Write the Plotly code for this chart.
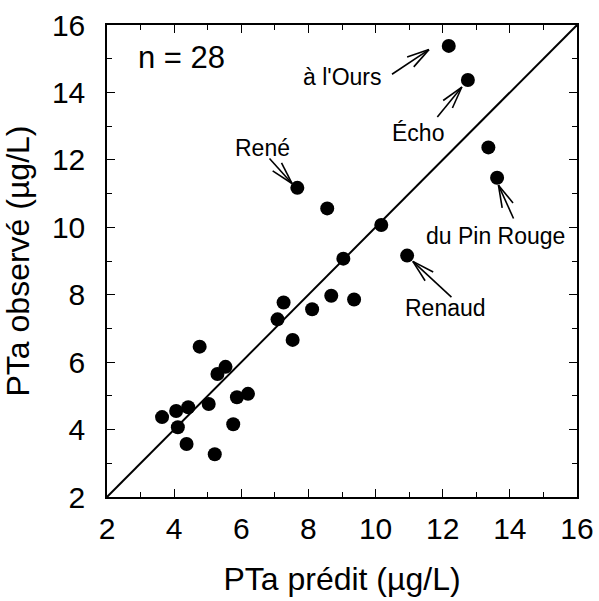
import math
import plotly.graph_objects as go

# Predicted vs observed total phosphorus (µg/L) for 28 lakes
predicted = [3.64, 4.06, 4.42, 4.11, 4.37, 4.76, 5.03, 5.21, 5.29, 5.53,
             5.76, 5.87, 6.20, 7.08, 7.26, 7.53, 8.11, 8.68, 9.36, 7.67,
             8.56, 10.17, 9.04, 10.94, 13.62, 12.18, 12.75, 13.36]
observed = [4.37, 4.55, 4.66, 4.07, 3.57, 6.46, 4.76, 3.27, 5.65, 5.86,
            4.16, 4.96, 5.06, 7.27, 7.77, 6.66, 7.57, 7.97, 7.86, 11.17,
            10.56, 10.07, 9.07, 9.16, 11.47, 15.38, 14.37, 12.37]

# Named lakes and their callouts (text anchor, arrow tail, arrow tip)
lake_names = ["à l'Ours", "Écho", "René", "du Pin Rouge", "Renaud"]
name_x = [10.26, 11.26, 6.63, 13.58, 12.07]
name_y = [14.45, 12.79, 12.34, 9.73, 7.60]
name_anchor = ["right", "center", "center", "center", "center"]
tail_x = [10.49, 11.84, 6.84, 14.11, 12.26]
tail_y = [14.54, 13.27, 12.04, 10.26, 7.93]
tip_x = [11.59, 12.57, 7.51, 13.66, 11.11]
tip_y = [15.27, 14.16, 11.30, 11.25, 8.99]

axis_min, axis_max = 2, 16
tick_vals = [2, 4, 6, 8, 10, 12, 14, 16]

W, H = 599, 601
margin = dict(l=107, r=22, t=25, b=104)
px_x = (W - margin["l"] - margin["r"]) / (axis_max - axis_min)
px_y = (H - margin["t"] - margin["b"]) / (axis_max - axis_min)

FONT = "Liberation Sans, Arial, sans-serif"

fig = go.Figure()

# 1:1 line
fig.add_trace(go.Scatter(
    x=[axis_min, axis_max], y=[axis_min, axis_max], mode="lines",
    line=dict(color="black", width=2), hoverinfo="skip", showlegend=False))

fig.add_trace(go.Scatter(
    x=predicted, y=observed, mode="markers",
    marker=dict(color="black", size=14, line=dict(width=0)),
    showlegend=False))

# Callout arrows: shaft plus two open barbs at the tip
barb_len = 23.0
barb_angle = math.radians(15)
for tx, ty, hx, hy in zip(tail_x, tail_y, tip_x, tip_y):
    fig.add_shape(type="line", x0=tx, y0=ty, x1=hx, y1=hy,
                  line=dict(color="black", width=1.6))
    dx = (tx - hx) * px_x
    dy = (ty - hy) * px_y
    ang = math.atan2(dy, dx)
    for s in (-1, 1):
        a = ang + s * barb_angle
        bx = hx + barb_len * math.cos(a) / px_x
        by = hy + barb_len * math.sin(a) / px_y
        fig.add_shape(type="line", x0=hx, y0=hy, x1=bx, y1=by,
                      line=dict(color="black", width=1.6))

for name, nx, ny, anc in zip(lake_names, name_x, name_y, name_anchor):
    fig.add_annotation(x=nx, y=ny, text=name, showarrow=False,
                       xanchor=anc, yanchor="middle",
                       font=dict(family=FONT, size=23, color="black"))

fig.add_annotation(x=2.87, y=15.05, text="n = 28", showarrow=False,
                   xanchor="left", yanchor="middle",
                   font=dict(family=FONT, size=31, color="black"))

axis_common = dict(
    range=[axis_min, axis_max], tickvals=tick_vals,
    ticks="inside", ticklen=8, tickwidth=1.3, tickcolor="black",
    minor=dict(dtick=1, ticks="inside", ticklen=5, tickwidth=1.3,
               tickcolor="black", showgrid=False),
    showline=True, linecolor="black", linewidth=1.5, mirror="ticks",
    showgrid=False, zeroline=False, automargin=False,
    tickfont=dict(family=FONT, size=30, color="black"),
)

fig.update_xaxes(**axis_common,
                 title=dict(text="PTa prédit (µg/L)",
                            font=dict(family=FONT, size=32, color="black"),
                            standoff=24),
                 ticklabelstandoff=4)
fig.update_yaxes(**axis_common,
                 title=dict(text="PTa observé (µg/L)",
                            font=dict(family=FONT, size=32, color="black"),
                            standoff=16),
                 ticklabelstandoff=14)

fig.update_layout(
    width=W, height=H, margin=margin,
    plot_bgcolor="white", paper_bgcolor="white",
)

fig.write_html("out.html")
